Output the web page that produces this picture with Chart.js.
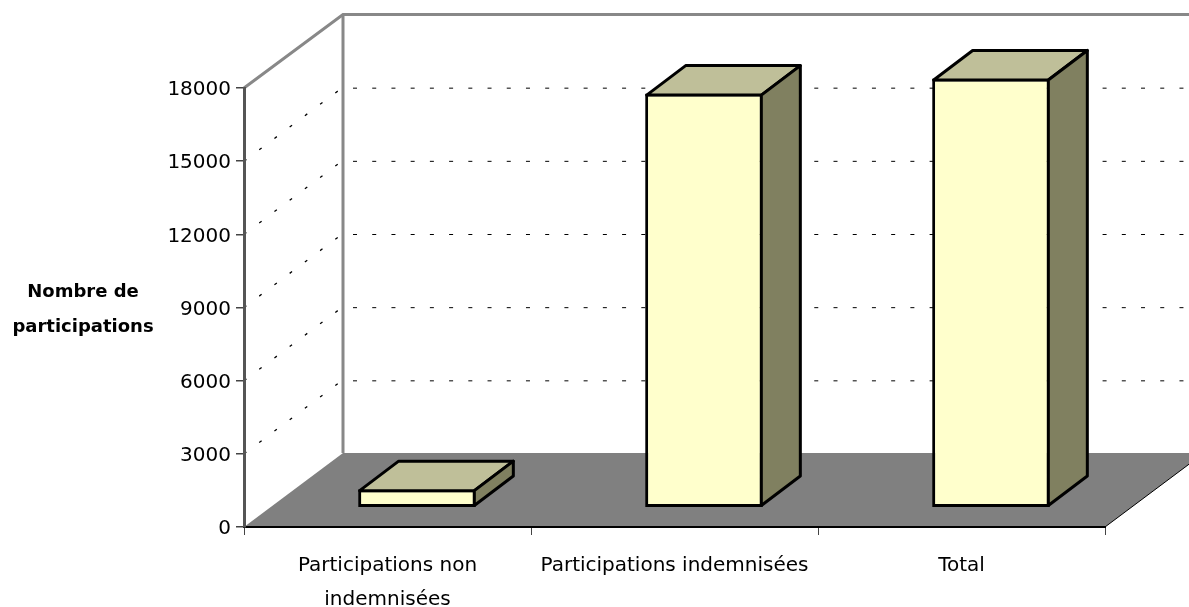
<!DOCTYPE html>
<html><head><meta charset="utf-8">
<style>html,body{margin:0;padding:0;background:#fff}canvas{display:block}</style>
<script src="https://cdn.jsdelivr.net/npm/chart.js@4"></script></head>
<body><canvas id="c" width="1189" height="607"></canvas>
<script>
const categories = [["Participations non","indemnisées"],"Participations indemnisées","Total"];
const participations = [760,16980,17600];
const yMax = 18000;
const yStep = 3000;
const axisTitle = ["Nombre de","participations"];

const WALL = {dx:99, dy:-74};
const BAR = {dx:29.5, dy:-19.3, depthX:39, depthY:-29.5};
const FRONT='#FFFFCC', TOP='#BFBF99', SIDE='#808060', FLOOR='#808080';

const scene = {
  id:'scene',
  beforeDraw(chart){
    const {ctx,chartArea:a,scales:{y}} = chart;
    const b=a.bottom,l=a.left,r=a.right,t=a.top;
    ctx.save();
    ctx.fillStyle=FLOOR;
    ctx.beginPath();ctx.moveTo(l,b);ctx.lineTo(l+WALL.dx,b+WALL.dy);ctx.lineTo(r+WALL.dx,b+WALL.dy);ctx.lineTo(r,b);ctx.closePath();ctx.fill();
    ctx.strokeStyle='#000';ctx.lineWidth=1;
    ctx.beginPath();ctx.moveTo(r,b);ctx.lineTo(r+WALL.dx,b+WALL.dy);ctx.stroke();
    ctx.strokeStyle='#000';ctx.lineWidth=1;
    for(let v=yStep;v<yMax;v+=yStep){
      const p=y.getPixelForValue(v);
      ctx.lineWidth=1;
      ctx.setLineDash([4,15.22]);
      ctx.beginPath();ctx.moveTo(l+WALL.dx+10,p+WALL.dy+1);ctx.lineTo(r+WALL.dx,p+WALL.dy+1);ctx.stroke();
      ctx.lineWidth=1.3;
      ctx.setLineDash([3,16]);
      ctx.beginPath();ctx.moveTo(l,p);ctx.lineTo(l+WALL.dx,p+WALL.dy);ctx.stroke();
    }
    ctx.setLineDash([]);
    ctx.strokeStyle='#888';ctx.lineWidth=3;
    ctx.beginPath();ctx.moveTo(l,t);ctx.lineTo(l+WALL.dx,t+WALL.dy+.5);ctx.lineTo(r+WALL.dx,t+WALL.dy+.5);ctx.stroke();
    ctx.beginPath();ctx.moveTo(l+WALL.dx,t+WALL.dy);ctx.lineTo(l+WALL.dx,b+WALL.dy);ctx.stroke();
    ctx.fillStyle='#000';ctx.font='bold 18px "DejaVu Sans"';ctx.textAlign='center';ctx.textBaseline='middle';
    ctx.fillText(axisTitle[0],83,292);ctx.fillText(axisTitle[1],83,327);
    ctx.restore();
  },
  beforeDatasetsDraw(chart){
    chart.ctx.save();chart.ctx.translate(BAR.dx,BAR.dy);
  },
  afterDatasetsDraw(chart){
    const ctx=chart.ctx;
    chart.getDatasetMeta(0).data.forEach(el=>{
      const x0=el.x-el.width/2+1.5,x1=el.x+el.width/2-1.5,y0=el.y+1.5,y1=el.base-1.5;
      const dx=BAR.depthX,dy=BAR.depthY;
      ctx.lineWidth=3;ctx.strokeStyle='#000';ctx.lineJoin='round';
      ctx.fillStyle=TOP;
      ctx.beginPath();ctx.moveTo(x0,y0);ctx.lineTo(x0+dx,y0+dy);ctx.lineTo(x1+dx,y0+dy);ctx.lineTo(x1,y0);ctx.closePath();ctx.fill();ctx.stroke();
      ctx.fillStyle=SIDE;
      ctx.beginPath();ctx.moveTo(x1,y0);ctx.lineTo(x1+dx,y0+dy);ctx.lineTo(x1+dx,y1+dy);ctx.lineTo(x1,y1);ctx.closePath();ctx.fill();ctx.stroke();
    });
    ctx.restore();
  }
};

new Chart(document.getElementById('c'),{
  type:'bar',
  data:{labels:categories,datasets:[{data:participations,backgroundColor:FRONT,borderColor:'#000',borderWidth:3,borderSkipped:false,barPercentage:0.41,categoryPercentage:1,clip:false}]},
  plugins:[scene],
  options:{
    responsive:false,animation:false,
    layout:{autoPadding:false,padding:{left:0,right:84,top:88,bottom:0}},
    plugins:{legend:{display:false},title:{display:false},tooltip:{enabled:false}},
    scales:{
      x:{
        afterFit(s){s.height=80;},
        grid:{drawOnChartArea:false,drawTicks:true,tickLength:8,color:'#444',lineWidth:1},
        border:{color:'#000',width:2},
        ticks:{color:'#000',font:{family:'"DejaVu Sans"',size:20,lineHeight:1.7},maxRotation:0,autoSkip:false,padding:14}
      },
      y:{
        min:0,max:yMax,
        afterFit(s){s.width=244;},
        grid:{drawOnChartArea:false,tickLength:8,color:'#444',lineWidth:1.5},
        border:{color:'#555',width:3},
        ticks:{stepSize:yStep,color:'#000',font:{family:'"DejaVu Sans"',size:20},padding:5,labelOffset:2,callback:v=>String(v)}
      }
    }
  }
});
</script></body></html>
